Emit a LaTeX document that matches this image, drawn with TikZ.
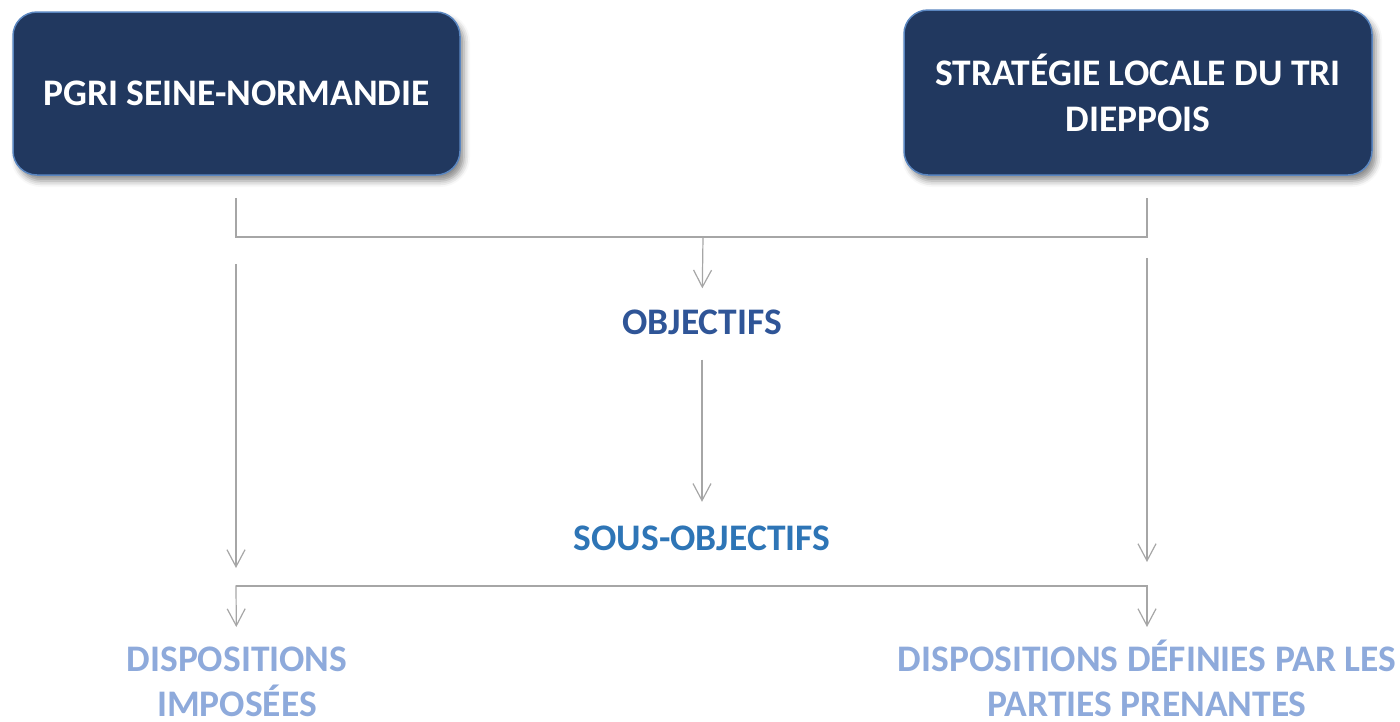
\documentclass[tikz,border=0pt]{standalone}
\usepackage{fontspec}
\setmainfont{Carlito}
\usetikzlibrary{arrows.meta,shadows.blur}

\definecolor{boxfill}{HTML}{21385F}
\definecolor{boxline}{HTML}{5A86C0}
\definecolor{objblue}{HTML}{2F5597}
\definecolor{subblue}{HTML}{2E75B6}
\definecolor{dispblue}{HTML}{8EAADB}
\definecolor{linkgrey}{HTML}{A6A6A6}

\tikzset{
	headbox/.style={draw=boxline, line width=1.5pt, fill=boxfill, rounded corners=24pt,
		text=white, align=center, font=\bfseries\fontsize{37.5}{46}\selectfont,
		blur shadow={shadow xshift=4pt, shadow yshift=-6pt, shadow blur radius=6pt, shadow opacity=45}},
	levelname/.style={inner sep=0pt, text height=24pt, text depth=0pt,
		font=\bfseries\fontsize{37.5}{46}\selectfont},
	dispname/.style={inner sep=0pt, align=center, text=dispblue, text depth=0pt,
		font=\bfseries\fontsize{37.5}{44.5}\selectfont},
	link/.style={draw=linkgrey, line width=1.2pt},
	arrowlink/.style={link, -{Straight Barb[length=17pt, width=18pt]}}
}

\begin{document}
\begin{tikzpicture}[x=1pt, y=-1pt]
	\useasboundingbox
		(0, 0) rectangle (1400, 721);

	\node
		[headbox, minimum width=447pt, minimum height=163pt] (pgri) at (236.5, 93.5) {PGRI SEINE-NORMANDIE};

	\node
		[headbox, minimum width=468pt, minimum height=165pt] (sli) at (1138, 92.5) {STRATÉGIE LOCALE DU TRI\\DIEPPOIS};

	\node
		[levelname, text=objblue] (obj) at (702, 322.5) {OBJECTIFS};

	\node
		[levelname, text=subblue] (sobj) at (702, 538) {SOUS-OBJECTIFS};

	\node
		[dispname, anchor=base] (dimp) at (237, 716) {DISPOSITIONS\\IMPOSÉES};

	\node
		[dispname, anchor=base] (ddef) at (1147, 716) {DISPOSITIONS DÉFINIES PAR LES\\PARTIES PRENANTES};

	\coordinate (topjoin) at (703, 237);
	\coordinate (botleft) at (236, 586);
	\coordinate (botright) at (1147, 586);

	\draw
		[link, shorten <=22pt, shorten >=22pt] (pgri.south -| botleft) |- (topjoin) -| (sli.south -| botright);

	\draw
		[arrowlink, shorten >=22pt] (topjoin) -- (obj.north);

	\draw
		[arrowlink, shorten <=25pt, shorten >=24pt] (obj.south) -- (sobj.north);

	\draw
		[arrowlink, shorten <=88pt, shorten >=18pt] (pgri.south -| botleft) -- (botleft);

	\draw
		[arrowlink, shorten <=82pt, shorten >=24pt] (sli.south -| botright) -- (botright);

	\draw
		[arrowlink, shorten >=89pt] (botright) -- (botleft) -- (dimp.base);

	\draw
		[arrowlink, shorten >=89pt] (botleft) -- (botright) -- (ddef.base);
\end{tikzpicture}
\end{document}
